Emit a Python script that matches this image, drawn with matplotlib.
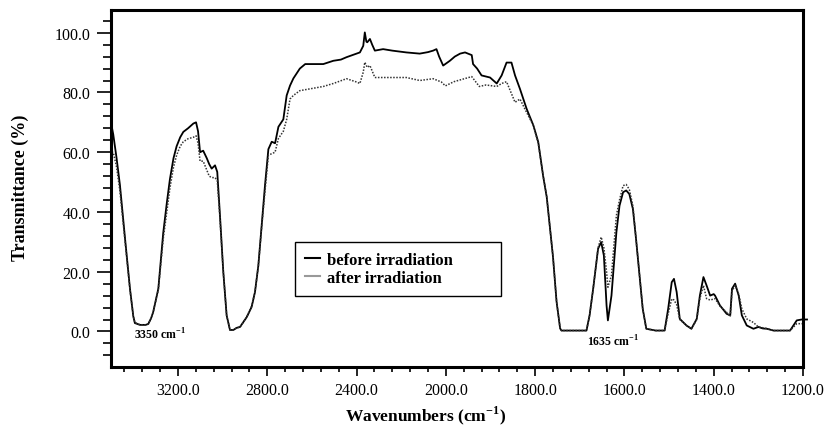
import numpy as np
import matplotlib
matplotlib.use('Agg')
import matplotlib.pyplot as plt
from matplotlib.lines import Line2D

plt.rcParams['font.family'] = ['Liberation Serif', 'DejaVu Serif']
plt.rcParams['mathtext.fontset'] = 'custom'
plt.rcParams['mathtext.rm'] = 'Liberation Serif'
plt.rcParams['mathtext.bf'] = 'Liberation Serif:bold'

# spectrum before irradiation (wavenumber cm-1, transmittance %)
wn_before = [3497, 3490, 3475, 3460, 3437, 3415, 3400, 3393, 3370, 3345,
             3333, 3320, 3311, 3288, 3266, 3250, 3236, 3220, 3206, 3190,
             3176, 3155, 3131, 3119, 3110, 3101, 3087, 3071, 3060, 3049,
             3034, 3024, 3012, 2997, 2982, 2967, 2952, 2937, 2922, 2892,
             2870, 2855, 2840, 2825, 2810, 2795, 2780, 2765, 2750, 2728,
             2713, 2698, 2683, 2654, 2630, 2609, 2570, 2549, 2504, 2470,
             2445, 2400, 2385, 2370, 2363, 2356, 2352, 2340, 2330, 2318,
             2281, 2240, 2177, 2117, 2080, 2057, 2042, 2030, 2012, 1991,
             1980, 1968, 1957, 1942, 1939, 1930, 1920, 1901, 1886, 1875,
             1864, 1853, 1845, 1834, 1819, 1804, 1793, 1782, 1774, 1767,
             1760, 1752, 1744, 1741, 1710, 1685, 1678, 1670, 1659, 1652,
             1646, 1640, 1637, 1629, 1618, 1611, 1603, 1596, 1589, 1581,
             1574, 1566, 1559, 1551, 1530, 1510, 1502, 1494, 1489, 1483,
             1476, 1461, 1450, 1438, 1431, 1423, 1416, 1408, 1400, 1397,
             1386, 1371, 1363, 1359, 1352, 1344, 1337, 1326, 1311, 1300,
             1290, 1281, 1266, 1229, 1214, 1203, 1200, 1191]
t_before = [68.7, 66, 58, 49, 31, 14.3, 5, 2.8, 2.2, 2.2,
            2.5, 4.5, 6.5, 14.3, 33, 43, 51, 58, 62, 65,
            66.8, 68, 69.6, 70, 67, 60, 60.5, 58, 56, 54.5,
            55.6, 53.4, 39, 20, 5.4, 0.5, 0.5, 1.2, 1.5, 4.8,
            8.2, 13.2, 22, 35.5, 49, 61, 63.5, 63, 68.5, 71,
            79, 82.3, 84.7, 88, 89.5, 89.5, 89.5, 89.5, 90.6, 91,
            91.8, 93, 93.4, 95.6, 100.1, 97, 96.8, 97.9, 96, 94,
            94.5, 94, 93.4, 93, 93.5, 94, 94.5, 92, 89, 90.6,
            92, 93, 93.4, 92.5, 89.5, 88, 85.7, 85, 83, 85.7,
            90, 90, 85.7, 81.2, 74.5, 69, 63.4, 52, 45, 35,
            25, 10, 1, 0.3, 0.3, 0.3, 5.4, 14.3, 27.7, 29.9,
            25.4, 8.7, 3.7, 12, 33.2, 42.1, 46.6, 47.2, 46, 41,
            31, 18.7, 7.6, 0.9, 0.3, 0.3, 7.6, 16.5, 17.6, 13.2,
            4.2, 2, 0.9, 4.2, 12, 18.2, 15.4, 12, 12.5, 12,
            8.7, 5.9, 5.4, 14.3, 16, 12, 5.4, 2, 0.9, 1.5,
            1, 0.9, 0.3, 0.3, 3.7, 4, 4, 4]

# spectrum after irradiation
wn_after = [3497, 3490, 3475, 3460, 3437, 3415, 3400, 3393, 3370, 3345,
            3333, 3320, 3311, 3288, 3266, 3250, 3236, 3220, 3206, 3190,
            3176, 3155, 3131, 3119, 3110, 3101, 3087, 3071, 3060, 3049,
            3034, 3024, 3012, 2997, 2982, 2967, 2952, 2937, 2922, 2892,
            2870, 2855, 2840, 2825, 2810, 2795, 2780, 2765, 2750, 2728,
            2713, 2698, 2683, 2654, 2609, 2549, 2504, 2445, 2400, 2385,
            2370, 2363, 2352, 2340, 2318, 2281, 2177, 2117, 2057, 2020,
            2002, 1982, 1942, 1925, 1910, 1886, 1875, 1864, 1845, 1834,
            1819, 1804, 1793, 1782, 1774, 1767, 1760, 1752, 1744, 1741,
            1710, 1685, 1678, 1670, 1659, 1652, 1646, 1640, 1637, 1629,
            1618, 1611, 1603, 1596, 1589, 1581, 1574, 1566, 1559, 1551,
            1530, 1510, 1502, 1494, 1489, 1483, 1476, 1461, 1450, 1438,
            1431, 1423, 1416, 1408, 1397, 1386, 1371, 1363, 1359, 1352,
            1344, 1337, 1326, 1311, 1300, 1281, 1266, 1229, 1214, 1203,
            1200]
t_after = [60, 60, 55, 47, 30, 14, 5, 3, 2.2, 2.2,
           2.5, 4.5, 6.5, 14, 31, 40, 48, 55, 59, 62,
           63.5, 64.5, 65, 65.5, 63, 57, 57, 54, 52, 51.5,
           51.5, 50.5, 38, 20, 5.4, 0.5, 0.5, 1.2, 1.5, 4.8,
           8.5, 13.2, 22, 35, 47, 59, 59.5, 60, 64.6, 67,
           71, 77.8, 79, 80.6, 81.2, 82, 83, 84.6, 83.5, 83,
           86.8, 90.1, 88.4, 89, 85, 85, 85, 84, 84.6, 83.5,
           82.2, 83.6, 85.3, 82, 82.5, 82, 83, 83.6, 76.7, 77.8,
           73.3, 69, 63, 52, 45, 35, 25, 10, 1, 0.3,
           0.3, 0.3, 5.4, 14.3, 28, 31.6, 28, 20, 14.8, 18.7,
           38.8, 44, 48.8, 49.2, 47.5, 42, 31, 18.7, 7.6, 0.9,
           0.3, 0.3, 6, 10.9, 10.5, 9, 4, 2, 0.9, 4,
           11, 15.4, 11, 10.5, 11, 8.5, 6.4, 5, 13.5, 15.4,
           12.5, 7.6, 4.2, 3, 1.5, 1, 0.3, 0.3, 2.6, 2.6,
           2.6]

x_major = [3200, 2800, 2400, 2000, 1800, 1600, 1400, 1200]
y_major = [0, 20, 40, 60, 80, 100]


def fwd(w):
    w = np.asarray(w, dtype=float)
    return np.where(w >= 2000, w, 2 * w - 2000)


def inv(u):
    u = np.asarray(u, dtype=float)
    return np.where(u >= 2000, u, (u + 2000) / 2)


fig = plt.figure(figsize=(8.31, 4.27), dpi=100)
ax = fig.add_axes([111 / 831, (427 - 368.3) / 427, 692 / 831, 357.6 / 427])
ax.set_xscale('function', functions=(fwd, inv))
ax.set_xlim(3500, 1200)
ax.set_ylim(-12, 107.7)

ax.plot(wn_before, t_before, color='black', lw=1.3, clip_on=False)
ax.plot(wn_after, t_after, color='#333333', lw=1.1, ls=(0, (1, 1)))

x_minor = [w for w in range(3440, 2000, -80) if w not in x_major]
x_minor += [w for w in range(1960, 1200, -40) if w not in x_major]
y_minor = [v for v in range(-8, 108, 4) if v not in y_major]

ax.set_xticks(x_major)
ax.set_xticklabels([f"{v:.1f}" for v in x_major])
ax.set_xticks(x_minor, minor=True)
ax.set_yticks(y_major)
ax.set_yticklabels([f"{v:.1f}" for v in y_major])
ax.set_yticks(y_minor, minor=True)

ax.tick_params(axis='y', which='major', direction='out', length=10, width=1.2,
               labelsize=11.5, pad=5)
ax.tick_params(axis='y', which='minor', direction='out', length=5.5, width=1.2)
ax.tick_params(axis='x', which='major', direction='out', length=6.5, width=1.2,
               labelsize=11.5, pad=4)
ax.tick_params(axis='x', which='minor', direction='out', length=3.6, width=1.2)
for s in ax.spines.values():
    s.set_linewidth(2.2)

ax.set_xlabel(r"Wavenumbers (cm$^{\mathbf{-1}}$)", fontsize=12.5, fontweight='bold')
ax.xaxis.set_label_coords(0.454, -0.1)
ax.set_ylabel("Transmittance (%)", fontsize=13, fontweight='bold')
ax.yaxis.set_label_coords(-0.118, 0.504)

ax.text(3280, -0.8, r"3350 cm$^{\mathbf{-1}}$", fontsize=8.5, fontweight='bold',
        ha='center', va='center')
ax.text(1626, -3.1, r"1635 cm$^{\mathbf{-1}}$", fontsize=8.5, fontweight='bold',
        ha='center', va='center')

handles = [Line2D([], [], color='black', lw=1.5),
           Line2D([], [], color='#999999', lw=1.5)]
leg = ax.legend(handles, ["before irradiation", "after irradiation"],
                loc='upper left', bbox_to_anchor=(0.266, 0.197, 0.298, 0.154),
                mode='expand', borderaxespad=0, frameon=True, fancybox=False,
                edgecolor='black', framealpha=1, handlelength=0.9,
                handletextpad=0.4, borderpad=0.6, labelspacing=0.15,
                prop=dict(weight='bold', size=12))
leg.get_frame().set_linewidth(1.0)

fig.savefig('out.png', dpi=100)
